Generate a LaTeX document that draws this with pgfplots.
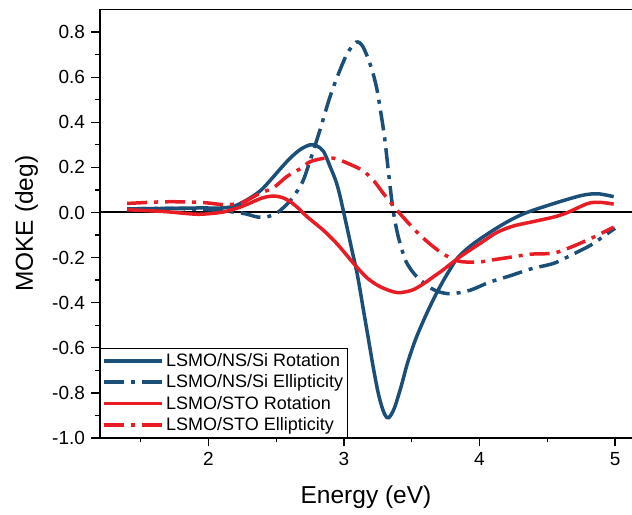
\documentclass[border=0pt]{standalone}
\usepackage{fontspec}
\setmainfont{Liberation Sans}
\usepackage{pgfplots}
\pgfplotsset{compat=1.18}
\definecolor{cblue}{RGB}{27,79,120}
\definecolor{cred}{RGB}{232,28,36}
\begin{document}
\begin{tikzpicture}
\begin{axis}[
  name=ax,
  scale only axis, width=532pt, height=428.5pt,
  xmin=1.2, xmax=5.125, ymin=-1, ymax=0.9,
  axis x line*=bottom, axis y line*=left,
  axis line style={-, line width=1.3pt, black},
  xtick={2,3,4,5}, minor xtick={1.5,2.5,3.5,4.5},
  ytick={-1,-0.8,-0.6,-0.4,-0.2,0,0.2,0.4,0.6,0.8},
  minor ytick={-0.9,-0.7,-0.5,-0.3,-0.1,0.1,0.3,0.5,0.7},
  tick align=outside, major tick length=8.5pt, minor tick length=4.5pt,
  tick style={black, line width=1.3pt},
  /pgf/number format/assume math mode=true,
  ticklabel style={font=\fontsize{19}{22}\selectfont},
  yticklabel style={xshift=-3pt, /pgf/number format/.cd, fixed, fixed zerofill, precision=1},
  xticklabel style={yshift=-2pt},
  xlabel={Energy (eV)}, ylabel={MOKE (deg)},
  label style={font=\fontsize{24.5}{28}\selectfont},
  xlabel style={at={(axis description cs:0.5,-0.152)}, anchor=base},
  ylabel style={at={(axis description cs:-0.126,0.5)}, anchor=base, rotate=0},
  legend style={at={(rel axis cs:0,0)}, anchor=south west, draw=black, line width=1.3pt,
    font=\fontsize{18}{21}\selectfont, inner xsep=1.5pt, inner ysep=4pt, row sep=4.4pt,
    nodes={inner ysep=1.2pt, inner xsep=2.5pt}},
  legend cell align=left,
  legend image code/.code={\draw[#1] (0pt,0pt) -- (58pt,0pt);},
  every axis plot/.append style={line width=3.5pt, smooth},
]
\addplot[black, line width=2pt, forget plot] coordinates {(1.2,0) (5.125,0)};
\addplot[cblue] coordinates {
(1.40,0.016)(1.70,0.018)(1.94,0.02)(2.10,0.02)(2.20,0.03)(2.31,0.065)(2.39,0.10)(2.46,0.145)(2.54,0.20)(2.61,0.245)(2.68,0.28)(2.75,0.30)(2.80,0.295)(2.85,0.27)(2.90,0.20)(2.94,0.14)(2.97,0.075)(3.02,-0.06)(3.06,-0.17)(3.10,-0.28)(3.14,-0.42)(3.18,-0.56)(3.22,-0.70)(3.26,-0.82)(3.30,-0.895)(3.33,-0.91)(3.37,-0.87)(3.42,-0.775)(3.47,-0.665)(3.53,-0.56)(3.59,-0.475)(3.64,-0.41)(3.69,-0.35)(3.74,-0.295)(3.79,-0.245)(3.84,-0.20)(3.92,-0.155)(4.01,-0.115)(4.13,-0.068)(4.24,-0.03)(4.35,0.0)(4.55,0.04)(4.75,0.075)(4.87,0.083)(4.99,0.07)};
\addlegendentry{LSMO/NS/Si Rotation}
\addplot[cblue, dash pattern=on 20pt off 7pt on 4pt off 7pt] coordinates {
(1.40,0.015)(1.70,0.018)(2.00,0.012)(2.24,-0.002)(2.36,-0.02)(2.43,-0.02)(2.51,0.0)(2.60,0.05)(2.69,0.13)(2.75,0.23)(2.82,0.36)(2.89,0.50)(2.94,0.585)(3.02,0.70)(3.09,0.755)(3.14,0.735)(3.20,0.645)(3.24,0.555)(3.27,0.45)(3.30,0.33)(3.33,0.17)(3.36,0.02)(3.39,-0.08)(3.42,-0.15)(3.46,-0.22)(3.53,-0.28)(3.64,-0.335)(3.72,-0.355)(3.80,-0.36)(3.93,-0.345)(4.07,-0.31)(4.23,-0.28)(4.38,-0.25)(4.55,-0.225)(4.69,-0.185)(4.82,-0.145)(4.94,-0.095)(5.00,-0.07)};
\addlegendentry{LSMO/NS/Si Ellipticity}
\addplot[cred] coordinates {
(1.40,0.012)(1.55,0.008)(1.70,0.003)(1.92,-0.008)(2.09,0.0)(2.16,0.01)(2.24,0.025)(2.32,0.045)(2.40,0.065)(2.48,0.073)(2.55,0.065)(2.61,0.045)(2.67,0.015)(2.73,-0.02)(2.85,-0.08)(2.95,-0.14)(3.07,-0.225)(3.17,-0.29)(3.27,-0.33)(3.39,-0.355)(3.50,-0.345)(3.59,-0.315)(3.66,-0.285)(3.73,-0.255)(3.86,-0.195)(4.01,-0.135)(4.13,-0.088)(4.25,-0.06)(4.40,-0.04)(4.55,-0.02)(4.65,0.0)(4.80,0.04)(4.89,0.045)(4.99,0.037)};
\addlegendentry{LSMO/STO Rotation}
\addplot[cred, dash pattern=on 20pt off 7pt on 4pt off 7pt] coordinates {
(1.40,0.04)(1.65,0.047)(1.82,0.047)(1.98,0.043)(2.11,0.035)(2.24,0.042)(2.38,0.085)(2.48,0.11)(2.58,0.16)(2.68,0.195)(2.75,0.225)(2.85,0.24)(2.93,0.24)(3.02,0.22)(3.14,0.185)(3.22,0.14)(3.29,0.085)(3.35,0.04)(3.42,-0.01)(3.56,-0.10)(3.71,-0.175)(3.84,-0.215)(3.99,-0.22)(4.10,-0.21)(4.21,-0.20)(4.38,-0.185)(4.55,-0.18)(4.69,-0.15)(4.84,-0.11)(4.99,-0.065)};
\addlegendentry{LSMO/STO Ellipticity}
\draw[line width=1.3pt] (rel axis cs:0,1) -- (rel axis cs:1,1);
\end{axis}
\pgfresetboundingbox
\path[use as bounding box] ([xshift=-100pt,yshift=-77pt]ax.south west) rectangle ([yshift=9.5pt]ax.north east);
\end{tikzpicture}
\end{document}
